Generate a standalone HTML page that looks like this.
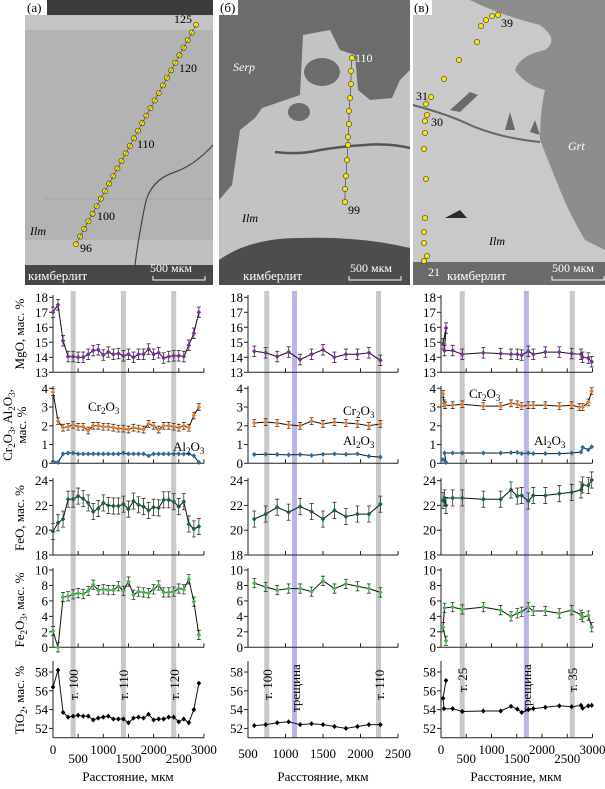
<!DOCTYPE html>
<html><head><meta charset="utf-8">
<style>
html,body{margin:0;padding:0;background:#fff;}
svg, svg text{font-family:"Liberation Serif","DejaVu Serif",serif;}
</style></head><body>
<svg id="s" width="605" height="784" viewBox="0 0 605 784" xmlns="http://www.w3.org/2000/svg" font-family="Liberation Serif, serif">
<!-- Photo a -->
<g>
<rect x="25" y="0" width="188" height="285" fill="#b3b3b3"/>
<rect x="25" y="0" width="188" height="15" fill="#3c3c3c"/>
<rect x="25" y="15" width="188" height="15" fill="#c4c4c4"/>
<rect x="25" y="240" width="188" height="25" fill="#c0c0c0"/>
<rect x="25" y="265" width="188" height="20" fill="#474747"/>
<path d="M213 145 Q195 165 175 172 Q150 180 145 205 Q138 240 135 265" stroke="#444" stroke-width="1.2" fill="none"/>
<line x1="45" y1="199" x2="213" y2="199" stroke="#8a9a9a" stroke-width="0.6"/>
<rect x="25" y="0" width="22" height="15" fill="#fff"/>
<text x="27" y="12" font-size="13">(a)</text>
<text x="30" y="235" font-size="12" font-style="italic">Ilm</text>
<text x="28" y="280" font-size="13" fill="#fff">кимберлит</text>
<text x="150" y="272" font-size="12" fill="#fff">500 мкм</text>
<path d="M153 276v4h52v-4" stroke="#fff" fill="none"/>
<text x="174" y="23" font-size="12">125</text>
<text x="179" y="72" font-size="12">120</text>
<text x="137" y="148" font-size="12">110</text>
<text x="97" y="220" font-size="12">100</text>
<text x="80" y="252" font-size="12">96</text>
</g>
<!-- Photo б -->
<g>
<rect x="219" y="0" width="191" height="285" fill="#6c6c6c"/>
<path d="M219 200 L232 185 L240 130 L255 118 L262 108 L300 95 L303 35 L330 30 L340 50 L355 55 L358 90 L370 100 L392 98 L400 80 L410 70 L410 285 L219 285 Z" fill="#c3c3c3"/>
<ellipse cx="322" cy="72" rx="18" ry="14" fill="#6c6c6c"/>
<ellipse cx="299" cy="112" rx="11" ry="9" fill="#6c6c6c"/>
<path d="M275 152 Q300 155 320 150 Q345 146 365 145 Q390 143 410 148" stroke="#555" stroke-width="2.5" fill="none"/>
<path d="M219 260 Q250 238 300 238 Q360 236 410 248 L410 285 L219 285Z" fill="#4d4d4d"/>
<rect x="219" y="0" width="19" height="15" fill="#fff"/>
<text x="220" y="12" font-size="13">(б)</text>
<text x="233" y="71" font-size="12" font-style="italic" fill="#fff">Serp</text>
<text x="242" y="222" font-size="12" font-style="italic">Ilm</text>
<text x="243" y="280" font-size="13" fill="#fff">кимберлит</text>
<text x="350" y="272" font-size="12" fill="#fff">500 мкм</text>
<path d="M349 276v4h52v-4" stroke="#fff" fill="none"/>
<text x="355" y="62" font-size="12" fill="#fff">110</text>
<text x="348" y="214" font-size="12">99</text>
</g>
<!-- Photo в -->
<g>
<rect x="413" y="0" width="192" height="285" fill="#c9c9c9"/>
<path d="M470 0 Q500 15 540 25 Q560 40 545 50 Q520 55 515 70 Q525 85 545 90 Q540 110 540 140 Q548 160 560 190 Q570 215 585 240 L605 250 L605 0Z" fill="#8d8d8d"/>
<path d="M413 105 Q450 115 470 125 Q500 138 540 142" stroke="#666" stroke-width="2" fill="none"/>
<path d="M450 110 L470 92 L478 95 L460 112Z M505 130 L510 112 L515 130Z M530 132 L535 120 L540 135Z" fill="#6a6a6a"/>
<path d="M445 218 L460 210 L467 218Z" fill="#2a2a2a"/>
<rect x="413" y="262" width="192" height="23" fill="#6a6a6a"/>
<rect x="413" y="0" width="19" height="15" fill="#fff"/>
<text x="414" y="12" font-size="13">(в)</text>
<text x="568" y="150" font-size="12" font-style="italic" fill="#fff">Grt</text>
<text x="489" y="245" font-size="12" font-style="italic">Ilm</text>
<text x="447" y="280" font-size="13" fill="#fff">кимберлит</text>
<text x="552" y="272" font-size="12" fill="#fff">500 мкм</text>
<path d="M552 276v4h52v-4" stroke="#fff" fill="none"/>
<text x="501" y="27" font-size="12">39</text>
<text x="416" y="100" font-size="12">31</text>
<text x="431" y="126" font-size="12">30</text>
<text x="428" y="276" font-size="12" fill="#fff">21</text>
</g>
<g id="dots"></g>
<!-- axis titles -->
<g font-size="13">
<text transform="translate(24,334) rotate(-90)" text-anchor="middle">MgO, мас. %</text>
<text transform="translate(12,425) rotate(-90)" text-anchor="middle">Cr<tspan font-size="9" dy="3">2</tspan><tspan dy="-3">O</tspan><tspan font-size="9" dy="3">3</tspan><tspan dy="-3">, Al</tspan><tspan font-size="9" dy="3">2</tspan><tspan dy="-3">O</tspan><tspan font-size="9" dy="3">3</tspan><tspan dy="-3">,</tspan></text>
<text transform="translate(26,425) rotate(-90)" text-anchor="middle">мас. %</text>
<text transform="translate(24,518) rotate(-90)" text-anchor="middle">FeO, мас. %</text>
<text transform="translate(24,610) rotate(-90)" text-anchor="middle">Fe<tspan font-size="9" dy="3">2</tspan><tspan dy="-3">O</tspan><tspan font-size="9" dy="3">3</tspan><tspan dy="-3">, мас. %</tspan></text>
<text transform="translate(24,700) rotate(-90)" text-anchor="middle">TiO<tspan font-size="9" dy="3">2</tspan><tspan dy="-3">, мас. %</tspan></text>
</g>
<g id="plots"></g>
<g font-size="13">
<text x="88" y="411">Cr<tspan font-size="9" dy="3">2</tspan><tspan dy="-3">O</tspan><tspan font-size="9" dy="3">3</tspan></text>
<text x="173" y="451">Al<tspan font-size="9" dy="3">2</tspan><tspan dy="-3">O</tspan><tspan font-size="9" dy="3">3</tspan></text>
<text x="343" y="415">Cr<tspan font-size="9" dy="3">2</tspan><tspan dy="-3">O</tspan><tspan font-size="9" dy="3">3</tspan></text>
<text x="343" y="445">Al<tspan font-size="9" dy="3">2</tspan><tspan dy="-3">O</tspan><tspan font-size="9" dy="3">3</tspan></text>
<text x="469" y="398">Cr<tspan font-size="9" dy="3">2</tspan><tspan dy="-3">O</tspan><tspan font-size="9" dy="3">3</tspan></text>
<text x="534" y="445">Al<tspan font-size="9" dy="3">2</tspan><tspan dy="-3">O</tspan><tspan font-size="9" dy="3">3</tspan></text>
<text transform="translate(78,700) rotate(-90)">т. 100</text>
<text transform="translate(128,700) rotate(-90)">т. 110</text>
<text transform="translate(179,700) rotate(-90)">т. 120</text>
<text transform="translate(272,700) rotate(-90)">т. 100</text>
<text transform="translate(300,712) rotate(-90)">трещина</text>
<text transform="translate(384,700) rotate(-90)">т. 110</text>
<text transform="translate(467,692) rotate(-90)">т. 25</text>
<text transform="translate(531,712) rotate(-90)">трещина</text>
<text transform="translate(577,692) rotate(-90)">т. 35</text>
<text x="128" y="781" text-anchor="middle">Расстояние, мкм</text>
<text x="323" y="781" text-anchor="middle">Расстояние, мкм</text>
<text x="516" y="781" text-anchor="middle">Расстояние, мкм</text>
</g>
</svg>
<script>
var NS="http://www.w3.org/2000/svg";
function el(p,t,a,txt){var e=document.createElementNS(NS,t);for(var k in a)e.setAttribute(k,a[k]);if(txt!=null)e.textContent=txt;p.appendChild(e);return e;}
var D=document.getElementById("dots");
for(var i=0;i<30;i++){var t=i/29;el(D,"circle",{cx:76+t*120,cy:244-t*219,r:2.6,fill:"#ffe600",stroke:"#333","stroke-width":0.6});}
el(D,"line",{x1:76,y1:244,x2:196,y2:25,stroke:"#333","stroke-width":0.5});
var bd=[[352,58],[351,71],[351,84],[350,98],[349,111],[349,124],[348,137],[348,145],[347,160],[346,176],[345,189],[345,202]];
el(D,"polyline",{points:bd.map(function(p){return p.join(",")}).join(" "),fill:"none",stroke:"#333","stroke-width":0.6});
bd.forEach(function(p){el(D,"circle",{cx:p[0],cy:p[1],r:2.6,fill:"#ffe600",stroke:"#333","stroke-width":0.6});});
var vd=[[498,15],[492,16],[486,20],[481,26],[477,42],[459,60],[444,79],[431,97],[426,104],[427,115],[425,121],[425,133],[424,149],[426,179],[425,218],[424,232],[424,243],[427,256],[424,261]];
vd.forEach(function(p){el(D,"circle",{cx:p[0],cy:p[1],r:2.6,fill:"#ffe600",stroke:"#333","stroke-width":0.6});});

var P=document.getElementById("plots");
var FF="Liberation Serif, serif";
var panels=[
 {x0:53,k:0.0503,u0:0,xmin:0,xmax:3000,right:204,stagger:true,bands:[[400,"#c9c9c9"],[1400,"#c9c9c9"],[2400,"#c9c9c9"]]},
 {x0:248,k:0.075,u0:500,xmin:500,xmax:2500,right:398,stagger:false,bands:[[750,"#c9c9c9"],[1120,"#bbb4e4"],[2240,"#c9c9c9"]]},
 {x0:441,k:0.0505,u0:0,xmin:0,xmax:3000,right:592,stagger:true,bands:[[420,"#c9c9c9"],[1690,"#bbb4e4"],[2600,"#c9c9c9"]]}
];
var rows=[
 {b:372.3,v0:13,s:15,ticks:[13,14,15,16,17,18],top:297},
 {b:463.3,v0:0,s:18.75,ticks:[0,1,2,3,4],top:388},
 {b:555,v0:18,s:12.4,ticks:[18,20,22,24],top:480},
 {b:647.3,v0:0,s:7.73,ticks:[0,2,4,6,8,10],top:570},
 {b:737.8,v0:51,s:9.4,ticks:[52,54,56,58],top:663}
];
function X(p,u){return p.x0+(u-p.u0)*p.k;}
panels.forEach(function(p){
 p.bands.forEach(function(b){el(P,"rect",{x:X(p,b[0])-2.5,y:291,width:5,height:447,fill:b[1]});});
 rows.forEach(function(r){
  el(P,"line",{x1:p.x0,y1:r.top-2,x2:p.x0,y2:r.b,stroke:"#222","stroke-width":1});
  el(P,"line",{x1:p.x0,y1:r.b,x2:p.right,y2:r.b,stroke:"#222","stroke-width":1});
  r.ticks.forEach(function(v){var y=r.b-(v-r.v0)*r.s;el(P,"line",{x1:p.x0-4,y1:y,x2:p.x0,y2:y,stroke:"#222"});
   el(P,"text",{x:p.x0-5,y:y+4.5,"font-size":13,"text-anchor":"end","font-family":FF},String(v));});
  for(var u=p.xmin;u<=p.xmax;u+=500){var x=X(p,u);el(P,"line",{x1:x,y1:r.b-4,x2:x,y2:r.b,stroke:"#222"});}
 });
 for(var u=p.xmin;u<=p.xmax;u+=500){var x=X(p,u);var y=p.stagger?((u/500)%2==0?754:763):758;
  el(P,"text",{x:x,y:y,"font-size":13,"text-anchor":"middle","font-family":FF},String(u));}
});
function series(p,r,pts,col,err){
 var pp=pts.map(function(q){return [X(p,q[0]),r.b-(q[1]-r.v0)*r.s];});
 el(P,"polyline",{points:pp.map(function(q){return q[0].toFixed(1)+","+q[1].toFixed(1)}).join(" "),fill:"none",stroke:"#111","stroke-width":1});
 pp.forEach(function(q){
  if(err){var e=err*r.s;el(P,"path",{d:"M"+q[0]+" "+(q[1]-e)+"V"+(q[1]+e)+"M"+(q[0]-2)+" "+(q[1]-e)+"h4M"+(q[0]-2)+" "+(q[1]+e)+"h4",stroke:"#333","stroke-width":0.8,fill:"none"});}
  el(P,"path",{d:"M"+q[0]+" "+(q[1]-2.6)+"L"+(q[0]+2.3)+" "+q[1]+"L"+q[0]+" "+(q[1]+2.6)+"L"+(q[0]-2.3)+" "+q[1]+"Z",fill:col});
 });
}
function A(vals,step,start){return vals.map(function(v,i){return [start+i*step,v];});}
var pa=panels[0],pb=panels[1],pc=panels[2];
var C={mg:"#7b2d9b",cr:"#f27a1f",al:"#2b6c9d",fe:"#16663a",f3:"#47b84a",ti:"#000"};
series(pa,rows[0],A([17.0,17.5,15.1,14.05,14.05,14.0,14.0,14.2,14.45,14.5,14.15,14.35,14.2,14.25,14.1,14.2,14.0,14.2,14.2,14.55,14.2,14.3,13.95,14.05,14.1,14.1,14.05,14.8,15.6,17.0],100,0),C.mg,0.35);
series(pa,rows[1],A([3.8,2.25,1.9,1.95,2.05,1.95,1.95,1.75,2.0,2.0,1.95,1.95,1.9,1.85,1.85,1.8,1.9,1.85,1.8,2.1,2.0,1.8,2.0,2.0,1.95,1.9,2.0,1.9,2.55,3.0],100,0),C.cr,0.18);
series(pa,rows[1],A([0.1,0.05,0.5,0.55,0.55,0.5,0.5,0.5,0.5,0.5,0.5,0.5,0.5,0.5,0.55,0.5,0.5,0.5,0.5,0.4,0.5,0.5,0.5,0.5,0.5,0.5,0.5,0.5,0.4,0.05],100,0),C.al,0);
series(pa,rows[2],A([19.9,20.6,20.9,22.5,22.5,22.75,22.55,22.2,21.5,21.75,22.2,22.0,21.95,21.95,22.1,21.7,22.35,22.05,21.9,21.6,21.85,21.8,22.45,22.45,22.3,21.9,22.3,20.5,20.1,20.3],100,0),C.fe,0.65);
series(pa,rows[3],A([2.1,0.0,6.5,6.6,6.85,7.0,6.9,7.3,8.1,7.4,7.5,7.4,7.4,7.9,7.3,8.5,6.8,7.2,7.1,7.0,7.5,8.0,7.1,7.1,7.2,7.6,7.5,8.8,5.9,1.6],100,0),C.f3,0.6);
series(pa,rows[4],A([56.4,58.2,53.7,53.2,53.3,53.4,53.3,53.3,52.9,53.1,53.2,53.3,53.0,53.0,53.0,52.6,53.1,53.2,53.1,53.5,52.9,53.0,53.0,53.2,53.2,52.7,53.0,52.6,54.0,56.8],100,0),C.ti,0);
var bx=[584,736,889,1042,1195,1348,1500,1653,1806,1959,2112,2265];
function B(v){return v.map(function(y,i){return [bx[i],y];});}
series(pb,rows[0],B([14.4,14.3,14.05,14.35,13.85,14.2,14.5,14.0,14.2,14.2,14.3,13.8]),C.mg,0.35);
series(pb,rows[1],B([2.15,2.2,2.15,2.05,2.0,2.25,2.1,2.2,2.15,2.1,2.0,2.1]),C.cr,0.18);
series(pb,rows[1],B([.47,.48,.47,.45,.47,.42,.48,.5,.48,.5,.38,.33]),C.al,0);
series(pb,rows[2],B([20.9,21.3,21.85,21.45,21.9,21.5,20.9,21.6,21.1,21.3,21.3,22.1]),C.fe,0.65);
series(pb,rows[3],B([8.3,7.8,7.4,7.6,7.6,7.2,8.6,7.6,8.2,7.9,7.6,7.1]),C.f3,0.6);
series(pb,rows[4],B([52.3,52.4,52.6,52.7,52.4,52.5,52.4,52.2,52.0,52.2,52.4,52.4]),C.ti,0);
var cx=[40,99,70,231,422,838,1182,1386,1511,1597,1729,1828,2066,2343,2588,2772,2805,2917,2984];
function Cc(v){return v.map(function(y,i){return [cx[i],y];});}
series(pc,rows[0],Cc([14.9,15.95,14.45,14.45,14.2,14.3,14.25,14.2,14.2,14.15,14.4,14.2,14.35,14.35,14.25,14.2,14.0,13.95,13.7]),C.mg,0.35);
series(pc,rows[1],[[40,3.7],[60,3.2],[80,3.1],[231,3.1],[422,3.15],[838,3.05],[1182,3.05],[1386,3.2],[1511,3.15],[1597,3.05],[1729,3.1],[1828,3.1],[2066,3.1],[2343,3.05],[2588,3.1],[2740,3.0],[2805,3.0],[2917,3.25],[2984,3.85]],C.cr,0.18);
series(pc,rows[1],Cc([0.2,0.05,0.55,0.55,0.55,0.55,0.55,0.57,0.58,0.52,0.55,0.52,0.52,0.52,0.55,0.6,0.85,0.72,0.88]),C.al,0);
series(pc,rows[2],Cc([22.4,22.0,22.6,22.6,22.6,22.5,22.5,23.25,22.75,22.8,22.35,22.8,22.8,22.95,23.05,23.25,23.65,23.6,24.05]),C.fe,0.65);
series(pc,rows[3],[[99,0.85],[40,2.6],[70,5.1],[231,5.2],[422,4.9],[838,5.2],[1182,4.8],[1386,4.0],[1511,4.4],[1597,4.6],[1729,5.2],[1828,4.7],[2066,4.7],[2343,4.4],[2588,4.8],[2772,4.2],[2805,3.9],[2917,4.1],[2984,2.6]],C.f3,0.6);
series(pc,rows[4],[[99,57.1],[40,55.2],[60,54.1],[231,54.1],[422,53.8],[838,53.85],[1182,53.85],[1386,54.35],[1511,54.05],[1597,53.7],[1729,54.0],[1828,54.1],[2066,54.25],[2343,54.4],[2588,54.3],[2772,54.45],[2805,54.15],[2917,54.4],[2984,54.45]],C.ti,0);
</script>
</body></html>
